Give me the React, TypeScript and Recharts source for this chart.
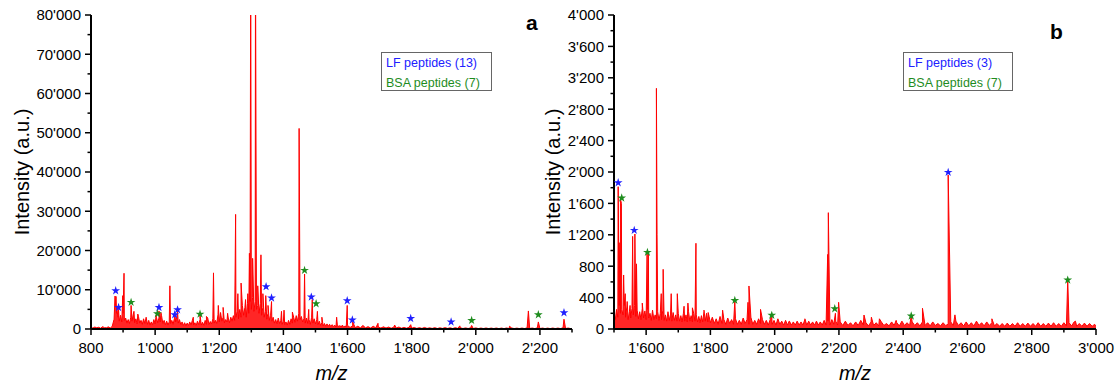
import React from 'react';
import { ComposedChart, Area, Scatter, XAxis, YAxis, Symbols } from 'recharts';

// spectrum a: noise floor and the main peaks, [m/z, intensity]
const noiseA: [number, number][] = [
  [800, 350], [806, 250], [812, 500], [818, 300], [824, 450], [830, 200], [836, 600], [842, 350], [848, 300], [854, 550], [860, 250], [866, 650],
  [872, 2500], [876, 6000], [880, 4000], [884, 3000], [888, 2000], [892, 3500], [896, 1800], [900, 4000], [904, 2200], [908, 2800],
  [912, 1500], [916, 2400], [920, 1400], [924, 3000], [928, 2000], [932, 3800], [936, 1600], [940, 2600], [944, 1300], [948, 3200],
  [952, 1500], [956, 2200], [960, 1200], [964, 2600], [968, 1400], [972, 3000], [976, 1200], [980, 2200], [984, 1000], [988, 1800],
  [992, 1100], [996, 2400], [1000, 1300], [1004, 3000], [1008, 1600], [1012, 2800], [1016, 1800], [1020, 3400], [1024, 1400], [1028, 2200],
  [1032, 1100], [1036, 2000], [1040, 1000], [1044, 1800], [1048, 1400], [1052, 2200], [1056, 1200], [1060, 2600], [1064, 1800], [1068, 3200],
  [1072, 1500], [1076, 2400], [1080, 1100], [1084, 1800], [1088, 900], [1092, 1600], [1096, 800], [1100, 1500], [1104, 900], [1108, 1800],
  [1112, 1000], [1116, 2200], [1120, 1000], [1124, 1600], [1128, 900], [1132, 2000], [1136, 1100], [1140, 2400], [1144, 1000], [1148, 1700],
  [1152, 900], [1156, 2200], [1160, 1200], [1164, 2800], [1168, 1100], [1172, 1900], [1176, 1300], [1180, 2600], [1184, 1500], [1188, 2200],
  [1192, 1400], [1196, 3600], [1200, 1800], [1204, 4200], [1208, 2000], [1212, 3000], [1216, 1600], [1220, 2400], [1224, 1800], [1228, 2800],
  [1232, 1600], [1236, 3000], [1240, 2000], [1244, 3400], [1248, 2200],
  [1252, 3000], [1256, 4500], [1260, 2600], [1264, 5000], [1268, 3000], [1272, 6000], [1276, 3500], [1280, 5500], [1284, 3000], [1288, 6500],
  [1292, 4000], [1296, 7000], [1300, 5000], [1304, 8000], [1308, 4500], [1312, 7000], [1316, 5000], [1320, 6000], [1324, 4000], [1328, 6500],
  [1332, 3500], [1336, 5500], [1340, 3000], [1344, 4500], [1348, 2500], [1352, 4000], [1356, 2200], [1360, 3500],
  [1364, 2000], [1368, 3000], [1372, 1500], [1376, 2400], [1380, 1300], [1384, 2800], [1388, 1400], [1392, 2200], [1396, 1200], [1400, 2000],
  [1404, 1100], [1408, 1800], [1412, 1000], [1416, 2200], [1420, 1200], [1424, 2600], [1428, 1500], [1432, 3000], [1436, 1700], [1440, 3400],
  [1444, 2000], [1448, 4000], [1452, 2400], [1456, 3200], [1460, 1800], [1464, 2600], [1468, 1500], [1472, 2800], [1476, 1400], [1480, 2400],
  [1484, 1200], [1488, 3000], [1492, 1500], [1496, 2600], [1500, 1300], [1504, 2400], [1508, 1100], [1512, 2000], [1516, 900], [1520, 1600],
  [1524, 800], [1528, 1400], [1532, 700], [1536, 1300], [1540, 700], [1544, 1200], [1548, 600], [1552, 1100], [1556, 600], [1560, 1000],
  [1564, 500], [1568, 1200], [1572, 500], [1576, 900], [1580, 500], [1584, 1000], [1588, 450], [1592, 800], [1596, 500], [1600, 900],
  [1608, 400], [1616, 800], [1624, 350], [1632, 700], [1640, 300], [1648, 900], [1656, 300], [1664, 600], [1672, 250], [1680, 700],
  [1688, 300], [1696, 500], [1704, 250], [1712, 550], [1720, 250], [1728, 500], [1736, 200], [1744, 450], [1752, 250], [1760, 500],
  [1768, 200], [1776, 400], [1784, 200], [1792, 450], [1800, 200], [1808, 400], [1816, 150], [1824, 350], [1832, 150], [1840, 400],
  [1848, 150], [1856, 300], [1864, 150], [1872, 350], [1880, 120], [1888, 300], [1896, 150], [1904, 350], [1912, 150], [1920, 300],
  [1928, 120], [1936, 350], [1944, 150], [1952, 300], [1960, 120], [1968, 280], [1976, 120], [1984, 300], [1992, 120], [2000, 280],
  [2008, 100], [2016, 250], [2024, 100], [2032, 260], [2040, 100], [2048, 240], [2056, 100], [2064, 250], [2072, 100], [2080, 240],
  [2088, 100], [2096, 260], [2104, 100], [2112, 250], [2120, 100], [2128, 230], [2136, 100], [2144, 250], [2152, 100], [2160, 300],
  [2168, 120], [2176, 250], [2184, 100], [2192, 300], [2200, 100], [2208, 240], [2216, 100], [2224, 230], [2232, 100], [2240, 250],
  [2248, 100], [2256, 240], [2264, 100], [2272, 300], [2280, 120], [2288, 250], [2296, 100], [2300, 150],
];

const peaksA: [number, number][] = [
  [875, 8400], [878, 8300], [881, 5000], [886, 5000], [899, 8500], [903, 14200], [925, 6000], [934, 4500], [946, 3800],
  [1003, 3500], [1012, 4600], [1018, 4200], [1046, 11000], [1062, 3500], [1070, 4500], [1119, 3000], [1140, 3500], [1160, 3200],
  [1182, 14300], [1197, 6000], [1212, 5500], [1226, 4000], [1251, 29200], [1258, 9000], [1268, 11700], [1282, 7500], [1289, 9000],
  [1294, 19300], [1298, 95000], [1304, 18000], [1313, 95000], [1320, 11000], [1330, 18900], [1336, 9000], [1345, 8500], [1352, 6000],
  [1363, 7000], [1394, 4500], [1402, 4800], [1428, 4300], [1449, 51100], [1466, 14000], [1479, 5000], [1490, 7500], [1506, 4500],
  [1520, 3000], [1566, 3000], [1599, 6000], [1616, 1800], [1695, 1450], [1747, 1000], [1797, 1100], [1950, 800], [1987, 900],
  [2105, 700], [2164, 4600], [2195, 1800], [2275, 2500],
];

// star markers a: [m/z, intensity]
const lfA: [number, number][] = [
  [877, 9760], [886, 5500], [1012, 5500], [1061, 3650], [1070, 4900], [1346, 10800], [1363, 7900],
  [1487, 8150], [1599, 7200], [1615, 2300], [1797, 2700], [1923, 1800], [2275, 4150],
];
const bsaA: [number, number][] = [
  [925, 6800], [1007, 3900], [1140, 3800], [1466, 14950], [1502, 6450], [1987, 2200], [2195, 3650],
];

// spectrum b
const noiseB: [number, number][] = [
  [1500, 200], [1504, 120], [1508, 250], [1512, 150], [1516, 300], [1520, 200], [1524, 250], [1528, 180], [1532, 300], [1536, 150],
  [1540, 280], [1544, 120], [1548, 220], [1552, 140], [1556, 260], [1560, 180], [1564, 300], [1568, 160], [1572, 240], [1576, 130],
  [1580, 220], [1584, 120], [1588, 260], [1592, 140], [1596, 230], [1600, 120], [1604, 250], [1608, 140], [1612, 200], [1616, 110],
  [1620, 240], [1624, 120], [1628, 180], [1632, 130], [1636, 220], [1640, 110], [1644, 200], [1648, 120], [1652, 240], [1656, 110],
  [1660, 180], [1664, 100], [1668, 220], [1672, 110], [1676, 190], [1680, 100], [1684, 210], [1688, 110], [1692, 180], [1696, 100],
  [1700, 200], [1704, 100], [1708, 170], [1712, 90], [1716, 200], [1720, 100], [1724, 180], [1728, 90], [1732, 220], [1736, 100],
  [1740, 170], [1744, 90], [1748, 200], [1752, 100], [1756, 180], [1760, 90], [1764, 160], [1768, 80], [1772, 170], [1776, 90],
  [1780, 220], [1784, 100], [1788, 200], [1792, 90], [1796, 160], [1800, 80],
  [1806, 150], [1812, 70], [1818, 130], [1824, 60], [1830, 160], [1836, 70], [1842, 120], [1848, 60], [1854, 140], [1860, 70],
  [1866, 120], [1872, 60], [1878, 130], [1884, 60], [1890, 110], [1896, 60], [1902, 140], [1908, 70], [1914, 120], [1920, 60],
  [1926, 150], [1932, 60], [1938, 110], [1944, 60], [1950, 130], [1956, 70], [1962, 120], [1968, 60], [1974, 110], [1980, 50],
  [1986, 120], [1992, 60], [1998, 110], [2004, 50], [2010, 130], [2016, 60], [2022, 100], [2028, 50], [2034, 110], [2040, 50],
  [2046, 100], [2052, 50], [2058, 90], [2064, 50], [2070, 100], [2076, 50], [2082, 90], [2088, 50], [2094, 120], [2100, 50],
  [2106, 100], [2112, 50], [2118, 90], [2124, 50], [2130, 100], [2136, 50], [2142, 90], [2148, 50], [2154, 110], [2160, 50],
  [2166, 100], [2172, 50], [2178, 120], [2184, 60], [2190, 100], [2196, 50],
  [2204, 90], [2212, 45], [2220, 100], [2228, 45], [2236, 80], [2244, 40], [2252, 90], [2260, 45], [2268, 110], [2276, 50],
  [2284, 80], [2292, 40], [2300, 90], [2308, 45], [2316, 80], [2324, 40], [2332, 90], [2340, 45], [2348, 70], [2356, 40],
  [2364, 90], [2372, 45], [2380, 80], [2388, 40], [2396, 100], [2404, 45], [2412, 80], [2420, 45], [2428, 90], [2436, 45],
  [2444, 80], [2452, 40], [2460, 90], [2468, 45], [2476, 80], [2484, 40], [2492, 90], [2500, 45], [2508, 70], [2516, 40],
  [2524, 80], [2532, 45], [2540, 60], [2548, 90], [2556, 45], [2564, 100], [2572, 45], [2580, 80], [2588, 40], [2596, 90],
  [2604, 40], [2612, 80], [2620, 40], [2628, 100], [2636, 45], [2644, 80], [2652, 40], [2660, 90], [2668, 45], [2676, 80],
  [2684, 40], [2692, 70], [2700, 35], [2708, 70], [2716, 35], [2724, 75], [2732, 35], [2740, 70], [2748, 35], [2756, 80],
  [2764, 35], [2772, 70], [2780, 35], [2788, 75], [2796, 35], [2804, 70], [2812, 35], [2820, 80], [2828, 35], [2836, 70],
  [2844, 35], [2852, 75], [2860, 35], [2868, 80], [2876, 35], [2884, 70], [2892, 35], [2900, 80], [2908, 40], [2916, 80],
  [2924, 40], [2932, 90], [2940, 35], [2948, 70], [2956, 35], [2964, 75], [2972, 35], [2980, 70], [2988, 35], [2996, 60], [3000, 30],
];

const peaksB: [number, number][] = [
  [1513, 1813], [1516, 1100], [1520, 1660], [1523, 1600], [1530, 688], [1535, 450], [1541, 350], [1550, 300], [1558, 1180],
  [1565, 1210], [1570, 830], [1588, 330], [1603, 960], [1607, 960], [1632, 3066], [1634, 1200], [1647, 450], [1653, 760],
  [1678, 450], [1697, 450], [1718, 290], [1730, 330], [1744, 270], [1755, 1092], [1780, 240], [1793, 210], [1838, 240],
  [1876, 360], [1917, 340], [1920, 548], [1956, 250], [1991, 165], [2045, 100], [2094, 130], [2165, 950], [2167, 1482],
  [2189, 200], [2199, 340], [2278, 178], [2301, 150], [2326, 130], [2378, 110], [2425, 165], [2460, 264], [2540, 1962],
  [2561, 180], [2676, 130], [2912, 633], [2936, 100],
];

const lfB: [number, number][] = [[1513, 1864], [1563, 1257], [2540, 1996]];
const bsaB: [number, number][] = [[1524, 1669], [1604, 977], [1876, 365], [1991, 175], [2187, 259], [2425, 166], [2912, 624]];

// axis ticks and labels
const xTicksA = [800, 900, 1000, 1100, 1200, 1300, 1400, 1500, 1600, 1700, 1800, 1900, 2000, 2100, 2200, 2300];
const xLabelsA = [800, 1000, 1200, 1400, 1600, 1800, 2000, 2200];
const yTicksA = [0, 5000, 10000, 15000, 20000, 25000, 30000, 35000, 40000, 45000, 50000, 55000, 60000, 65000, 70000, 75000, 80000];
const yLabelsA = [0, 10000, 20000, 30000, 40000, 50000, 60000, 70000, 80000];
const xTicksB = [1500, 1600, 1700, 1800, 1900, 2000, 2100, 2200, 2300, 2400, 2500, 2600, 2700, 2800, 2900, 3000];
const xLabelsB = [1600, 1800, 2000, 2200, 2400, 2600, 2800, 3000];
const yTicksB = [0, 200, 400, 600, 800, 1000, 1200, 1400, 1600, 1800, 2000, 2200, 2400, 2600, 2800, 3000, 3200, 3400, 3600, 3800, 4000];
const yLabelsB = [0, 400, 800, 1200, 1600, 2000, 2400, 2800, 3200, 3600, 4000];

const FONT = '"Liberation Sans", Arial, sans-serif';
const RED = '#ff0000';
const BLUE = '#2020ff';
const GREEN = '#1e8c1e';

const fmt = (v: number) => String(v).replace(/\B(?=(\d{3})+(?!\d))/g, "'");

const toSpectrum = (noise: [number, number][], peaks: [number, number][]) =>
  [...noise, ...peaks].sort((a, b) => a[0] - b[0]).map(([mz, int]) => ({ mz, int }));

const toMarks = (list: [number, number][]) => list.map(([mz, y]) => ({ mz, y }));

const XTick = (props: any) => {
  const { x, y, payload, labels } = props;
  const major = labels.includes(payload.value);
  return (
    <g>
      <line x1={x} y1={y} x2={x} y2={y + (major ? 6 : 3.5)} stroke="#000" strokeWidth={1.5} />
      {major && (
        <text x={x} y={y + 24} textAnchor="middle" fontSize={15} fontFamily={FONT} fill="#000">
          {fmt(payload.value)}
        </text>
      )}
    </g>
  );
};

const YTick = (props: any) => {
  const { x, y, payload, labels } = props;
  const major = labels.includes(payload.value);
  return (
    <g>
      <line x1={x} y1={y} x2={x - (major ? 6 : 3.5)} y2={y} stroke="#000" strokeWidth={1.5} />
      {major && (
        <text x={x - 10} y={y} dy="0.36em" textAnchor="end" fontSize={15} fontFamily={FONT} fill="#000">
          {fmt(payload.value)}
        </text>
      )}
    </g>
  );
};

const starShape = (color: string) => (props: any) =>
  <Symbols type="star" size={24} cx={props.cx} cy={props.cy} fill={color} />;

interface PanelProps {
  data: { mz: number; int: number }[];
  lf: { mz: number; y: number }[];
  bsa: { mz: number; y: number }[];
  width: number;
  margin: { top: number; right: number; bottom: number; left: number };
  yWidth: number;
  xDomain: [number, number];
  yDomain: [number, number];
  xTicks: number[];
  xLabels: number[];
  yTicks: number[];
  yLabels: number[];
}

function Panel({ data, lf, bsa, width, margin, yWidth, xDomain, yDomain, xTicks, xLabels, yTicks, yLabels }: PanelProps) {
  return (
    <ComposedChart width={width} height={387} data={data} margin={margin}>
      <XAxis
        dataKey="mz"
        type="number"
        domain={xDomain}
        allowDataOverflow
        ticks={xTicks}
        interval={0}
        tickSize={0}
        tickMargin={0}
        tickLine={false}
        axisLine={{ stroke: '#000', strokeWidth: 2 }}
        tick={<XTick labels={xLabels} />}
        height={30}
        label={{
          value: 'm/z',
          position: 'bottom',
          offset: 7,
          style: { fontSize: 20, fontStyle: 'italic', fontFamily: FONT, fill: '#000' },
        }}
      />
      <YAxis
        type="number"
        domain={yDomain}
        allowDataOverflow
        ticks={yTicks}
        interval={0}
        tickSize={0}
        tickMargin={0}
        tickLine={false}
        axisLine={{ stroke: '#000', strokeWidth: 2 }}
        tick={<YTick labels={yLabels} />}
        width={yWidth}
        label={{
          value: 'Intensity (a.u.)',
          angle: -90,
          position: 'insideLeft',
          offset: 1,
          style: { textAnchor: 'middle', fontSize: 20, fontFamily: FONT, fill: '#000' },
        }}
      />
      <Area
        type="linear"
        dataKey="int"
        stroke={RED}
        strokeWidth={1}
        fill={RED}
        fillOpacity={0.85}
        dot={false}
        activeDot={false}
        isAnimationActive={false}
      />
      <Scatter data={lf} dataKey="y" shape={starShape(BLUE)} isAnimationActive={false} />
      <Scatter data={bsa} dataKey="y" shape={starShape(GREEN)} isAnimationActive={false} />
    </ComposedChart>
  );
}

const legendBox = (left: number, lf: string, bsa: string, width: number) => (
  <div
    style={{
      position: 'absolute',
      left,
      top: 52,
      width,
      height: 37,
      border: '1px solid #666',
      fontFamily: FONT,
      fontSize: 12.5,
      lineHeight: '20px',
      paddingLeft: 4,
      boxSizing: 'content-box',
    }}
  >
    <div style={{ color: BLUE }}>{lf}</div>
    <div style={{ color: GREEN }}>{bsa}</div>
  </div>
);

export default function App() {
  const specA = toSpectrum(noiseA, peaksA);
  const specB = toSpectrum(noiseB, peaksB);
  return (
    <div style={{ position: 'absolute', left: 0, top: 0, width: 1119, height: 387, background: '#fff', fontFamily: FONT }}>
      <div style={{ position: 'absolute', left: 0, top: 0 }}>
        <Panel
          data={specA}
          lf={toMarks(lfA)}
          bsa={toMarks(bsaA)}
          width={580}
          margin={{ top: 15, right: 8, bottom: 28, left: 21 }}
          yWidth={70}
          xDomain={[800, 2300]}
          yDomain={[0, 80000]}
          xTicks={xTicksA}
          xLabels={xLabelsA}
          yTicks={yTicksA}
          yLabels={yLabelsA}
        />
      </div>
      <div style={{ position: 'absolute', left: 540, top: 0 }}>
        <Panel
          data={specB}
          lf={toMarks(lfB)}
          bsa={toMarks(bsaB)}
          width={579}
          margin={{ top: 15, right: 23, bottom: 28, left: 12 }}
          yWidth={62}
          xDomain={[1500, 3000]}
          yDomain={[0, 4000]}
          xTicks={xTicksB}
          xLabels={xLabelsB}
          yTicks={yTicksB}
          yLabels={yLabelsB}
        />
      </div>
      {legendBox(381, 'LF peptides (13)', 'BSA peptides (7)', 105)}
      {legendBox(903, 'LF peptides (3)', 'BSA peptides (7)', 104)}
      <div style={{ position: 'absolute', left: 526, top: 11, fontSize: 21, fontWeight: 'bold', lineHeight: '24px' }}>a</div>
      <div style={{ position: 'absolute', left: 1050, top: 20, fontSize: 21, fontWeight: 'bold', lineHeight: '24px' }}>b</div>
    </div>
  );
}
